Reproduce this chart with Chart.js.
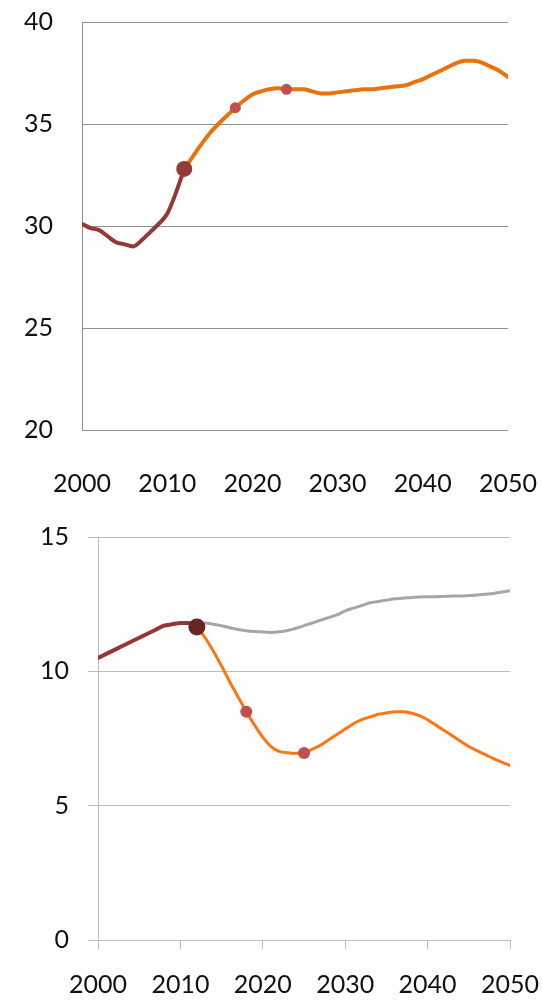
<!DOCTYPE html>
<html>
<head>
<meta charset="utf-8">
<script src="https://cdn.jsdelivr.net/npm/chart.js@4/dist/chart.umd.min.js"></script>
<style>
  html, body { margin: 0; padding: 0; background: #fff; }
  .box { position: absolute; left: 0; width: 542px; }
  #topBox { top: 0; height: 505px; }
  #botBox { top: 505px; height: 496px; }
</style>
</head>
<body>
<div class="box" id="topBox"><canvas id="topChart"></canvas></div>
<div class="box" id="botBox"><canvas id="botChart"></canvas></div>
<script>
// top chart data
const topHistYears  = [2000, 2001, 2002, 2003, 2004, 2005, 2006, 2007, 2008, 2009, 2010, 2011, 2012];
const topHistValues = [30.1, 29.9, 29.8, 29.5, 29.2, 29.1, 29.0, 29.3, 29.7, 30.1, 30.6, 31.6, 32.8];
const topProjYears  = [2012, 2013, 2014, 2015, 2016, 2017, 2018, 2019, 2020, 2021, 2022, 2023, 2024,
                       2025, 2026, 2027, 2028, 2029, 2030, 2031, 2032, 2033, 2034, 2035, 2036, 2037,
                       2038, 2039, 2040, 2041, 2042, 2043, 2044, 2045, 2046, 2047, 2048, 2049, 2050];
const topProjValues = [32.8, 33.4, 34.0, 34.55, 35.0, 35.4, 35.8, 36.15, 36.45, 36.6, 36.7, 36.75, 36.7,
                       36.7, 36.7, 36.6, 36.5, 36.5, 36.55, 36.6, 36.65, 36.7, 36.7, 36.75, 36.8, 36.85,
                       36.9, 37.05, 37.2, 37.4, 37.6, 37.8, 38.0, 38.1, 38.1, 38.0, 37.8, 37.6, 37.3];
const topJoinYear    = [2012];
const topJoinValue   = [32.8];
const topMarkerYears = [2018, 2024];
const topMarkerVals  = [35.8, 36.7];
const topYTicks      = [20, 25, 30, 35, 40];

// bottom chart data
const botHistYears  = [2000, 2001, 2002, 2003, 2004, 2005, 2006, 2007, 2008, 2009, 2010, 2011, 2012];
const botHistValues = [10.5, 10.65, 10.8, 10.95, 11.1, 11.25, 11.4, 11.55, 11.7, 11.75, 11.8, 11.8, 11.7];
const botProjYears  = [2012, 2013, 2014, 2015, 2016, 2017, 2018, 2019, 2020, 2021, 2022, 2023, 2024,
                       2025, 2026, 2027, 2028, 2029, 2030, 2031, 2032, 2033, 2034, 2035, 2036, 2037,
                       2038, 2039, 2040, 2041, 2042, 2043, 2044, 2045, 2046, 2047, 2048, 2049, 2050];
const botLowValues  = [11.65, 11.25, 10.75, 10.2, 9.6, 9.05, 8.5, 8.0, 7.55, 7.2, 7.02, 6.97, 6.95,
                       6.96, 7.1, 7.25, 7.45, 7.65, 7.85, 8.05, 8.2, 8.3, 8.4, 8.45, 8.5, 8.5,
                       8.45, 8.35, 8.2, 8.0, 7.8, 7.6, 7.4, 7.2, 7.05, 6.9, 6.75, 6.62, 6.5];
const botHighValues = [11.7, 11.8, 11.75, 11.7, 11.62, 11.56, 11.51, 11.48, 11.46, 11.45, 11.47, 11.52, 11.6,
                       11.7, 11.8, 11.9, 12.0, 12.1, 12.25, 12.35, 12.45, 12.55, 12.6, 12.65, 12.7, 12.72,
                       12.75, 12.77, 12.78, 12.78, 12.79, 12.8, 12.8, 12.82, 12.84, 12.87, 12.9, 12.95, 13.0];
const botJoinYear    = [2012];
const botJoinValue   = [11.65];
const botMarkerYears = [2018, 2025];
const botMarkerVals  = [8.5, 6.96];

const pts = (xs, ys) => xs.map((x, i) => ({ x: x, y: ys[i] }));
const FONT = { family: 'Lato, "Open Sans", sans-serif', size: 25 };
const plain = v => String(v);

function lineSet(xs, ys, color, width) {
  return { data: pts(xs, ys), borderColor: color, borderWidth: width, pointRadius: 0,
           cubicInterpolationMode: 'monotone', fill: false,
           borderCapStyle: 'round', borderJoinStyle: 'round' };
}
function markerSet(xs, ys, color, r) {
  return { data: pts(xs, ys), showLine: false, pointRadius: r, pointBackgroundColor: color,
           pointBorderWidth: 0, pointHoverRadius: r };
}
// fixed axis size, no label-driven padding (layout.padding does that)
function fixSize(key, size) {
  return s => {
    s[key] = size;
    s.paddingLeft = s.paddingRight = s.paddingTop = s.paddingBottom = 0;
  };
}

// top chart
new Chart(document.getElementById('topChart'), {
  type: 'line',
  data: {
    datasets: [
      markerSet(topJoinYear, topJoinValue, '#973a37', 8),
      markerSet(topMarkerYears, topMarkerVals, '#c0504d', 5.5),
      lineSet(topHistYears, topHistValues, '#953735', 4),
      lineSet(topProjYears, topProjValues, '#e8720c', 4),
    ],
  },
  options: {
    responsive: true,
    maintainAspectRatio: false,
    animation: false,
    layout: { padding: { top: 22, right: 34, left: 0, bottom: 0 } },
    plugins: { legend: { display: false }, tooltip: { enabled: false } },
    scales: {
      x: {
        type: 'linear', min: 2000, max: 2050,
        ticks: { stepSize: 10, color: '#111', font: FONT, padding: 31, maxRotation: 0, callback: plain },
        grid: { display: false },
        border: { display: false },
        afterFit: fixSize('height', 75),
      },
      y: {
        min: 20, max: 40,
        afterBuildTicks: s => { s.ticks = topYTicks.map(v => ({ value: v })); },
        ticks: { color: '#111', font: FONT, padding: 29, callback: plain },
        grid: { color: '#8f8f8f', lineWidth: 1, drawTicks: false },
        border: { display: true, color: '#8f8f8f', width: 1 },
        afterFit: fixSize('width', 82),
      },
    },
  },
});

// bottom chart
new Chart(document.getElementById('botChart'), {
  type: 'line',
  data: {
    datasets: [
      markerSet(botJoinYear, botJoinValue, '#662624', 8.5),
      markerSet(botMarkerYears, botMarkerVals, '#c0504d', 6),
      lineSet(botHistYears, botHistValues, '#953735', 4),
      lineSet(botProjYears, botLowValues, '#ff7515', 3),
      lineSet(botProjYears, botHighValues, '#a6a6a6', 3),
    ],
  },
  options: {
    responsive: true,
    maintainAspectRatio: false,
    animation: false,
    layout: { padding: { top: 32, right: 32, left: 0, bottom: 0 } },
    plugins: { legend: { display: false }, tooltip: { enabled: false } },
    scales: {
      x: {
        type: 'linear', min: 2000, max: 2050,
        ticks: { stepSize: 10, color: '#111', font: FONT, padding: 21, maxRotation: 0, callback: plain },
        grid: { drawOnChartArea: false, drawTicks: true, tickLength: 9, color: '#bdbdbd' },
        border: { display: true, color: '#bdbdbd', width: 1 },
        afterFit: fixSize('height', 61),
      },
      y: {
        min: 0, max: 15,
        ticks: { stepSize: 5, color: '#111', font: FONT, padding: 19, callback: plain },
        grid: { color: '#bdbdbd', lineWidth: 1, drawTicks: true, tickLength: 10 },
        border: { display: true, color: '#bdbdbd', width: 1 },
        afterFit: fixSize('width', 98),
      },
    },
  },
});
</script>
</body>
</html>
